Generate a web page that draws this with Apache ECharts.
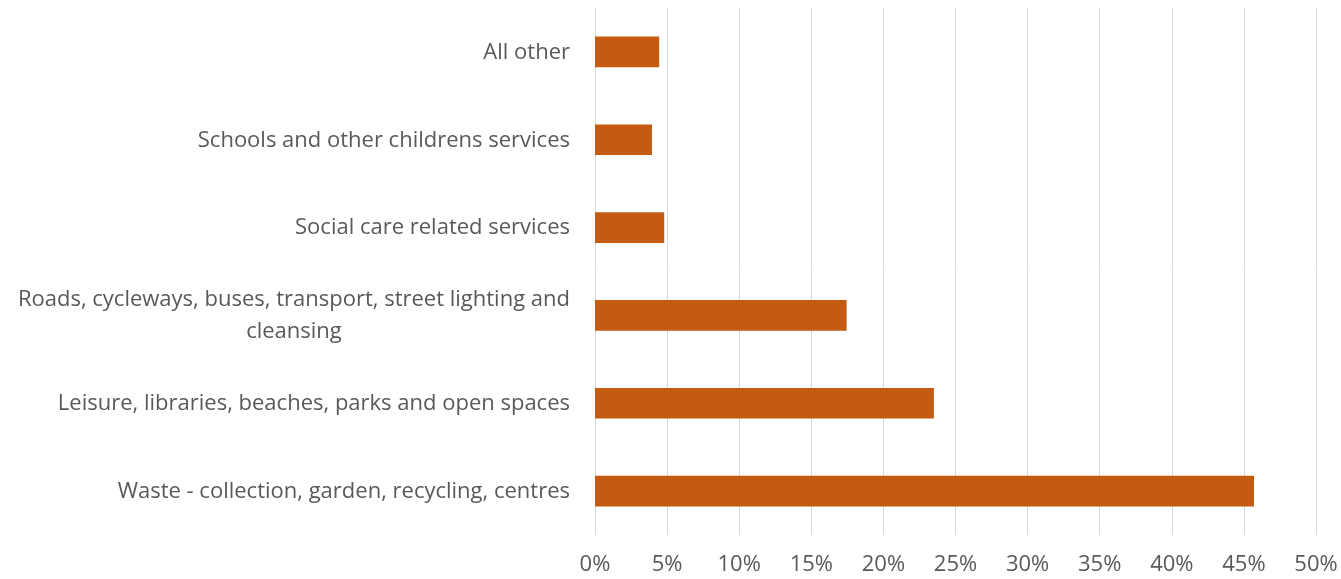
<!DOCTYPE html>
<html><head><meta charset="utf-8">
<script src="https://cdn.jsdelivr.net/npm/echarts@6/dist/echarts.min.js"></script>
<style>html,body{margin:0;padding:0;background:#fff}#c{width:1341px;height:579px}</style>
</head><body><div id="c"></div>
<script>
const categories = [
  "All other",
  "Schools and other childrens services",
  "Social care related services",
  "Roads, cycleways, buses, transport, street lighting and\ncleansing",
  "Leisure, libraries, beaches, parks and open spaces",
  "Waste - collection, garden, recycling, centres"
];
const values = [4.45, 3.95, 4.8, 17.45, 23.5, 45.7];
const xTicks = { min: 0, max: 50, interval: 5 };

const FONT = 'Open Sans';
const FS = 22;
const chart = echarts.init(document.getElementById('c'));
chart.setOption({
  animation: false,
  backgroundColor: '#fff',
  grid: { left: 595, right: 25, top: 8, bottom: 44, containLabel: false },
  xAxis: {
    type: 'value', min: xTicks.min, max: xTicks.max, interval: xTicks.interval,
    axisLine: { show: false }, axisTick: { show: false },
    splitLine: { show: true, lineStyle: { color: '#d9d9d9', width: 1 } },
    axisLabel: { formatter: v => v + '%', color: '#595959', fontSize: FS, fontFamily: FONT, margin: 19 }
  },
  yAxis: {
    type: 'category', data: categories, inverse: true,
    axisLine: { show: false }, axisTick: { show: false },
    axisLabel: {
      color: '#595959', fontSize: FS, fontFamily: FONT, margin: 25,
      formatter: v => '{c|' + v + '}',
      rich: { c: { align: 'center', color: '#595959', fontSize: FS, fontFamily: FONT, lineHeight: 32, padding: [1, 0, 0, 0] } }
    }
  },
  series: [{
    type: 'bar', data: values, barWidth: '35%',
    itemStyle: { color: '#C55A11' }
  }]
});
</script></body></html>
